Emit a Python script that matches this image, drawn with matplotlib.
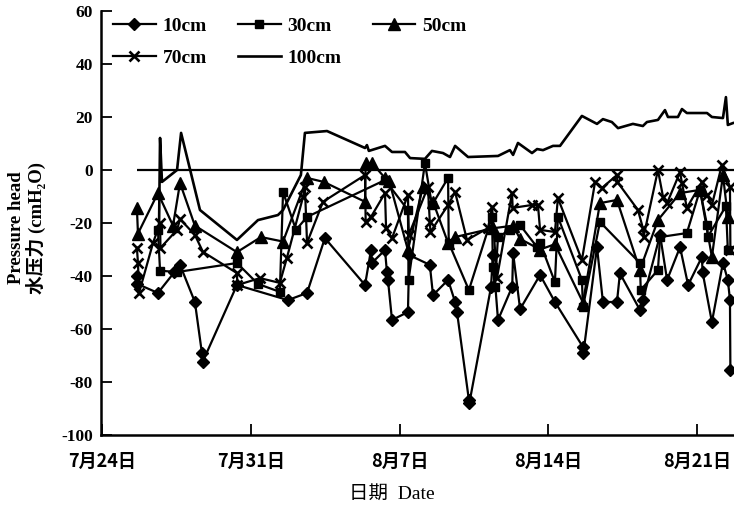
import matplotlib
matplotlib.use("Agg")
import matplotlib.pyplot as plt
from matplotlib.lines import Line2D

plt.rcParams['font.family'] = ['Liberation Serif', 'Noto Sans CJK SC', 'DejaVu Sans']

# days since 7/24 (00:00)
d10 = [1.63, 1.65, 2.62, 3.40, 3.66, 4.36, 4.69, 4.72, 6.34, 8.74, 9.64, 10.48, 12.37, 12.65, 12.70,
       13.31, 13.40, 13.45, 13.64, 14.39, 14.45, 15.42, 15.57, 16.28, 16.61, 16.70, 17.26, 17.28,
       18.30, 18.39, 18.63, 19.30, 19.34, 19.67, 20.61, 21.31, 22.63, 22.65, 23.29, 23.57, 24.23,
       24.37, 25.31, 25.45, 26.26, 26.59, 27.20, 27.58, 28.23, 28.26, 28.70, 29.22, 29.45, 29.55, 29.57]
v10 = [-40, -43, -46.4, -38.5, -35.8, -49.8, -69, -72.5, -43.4, -49.1, -46.4, -25.7, -43.4, -30.2, -35,
       -30.2, -38.5, -41.5, -56.6, -53.6, -32.1, -35.8, -47.2, -41.5, -49.8, -53.6, -86.8, -88,
       -44.2, -32.1, -56.6, -44, -31.3, -52.5, -39.6, -49.8, -66.8, -69.1, -29.1, -49.8, -49.8,
       -39, -52.8, -49.1, -24.5, -41.5, -29.1, -43.4, -32.8, -38.5, -57.4, -35, -41.5, -49, -75.5]

d30 = [2.62, 2.72, 3.52, 6.34, 7.33, 8.36, 8.51, 9.12, 9.64, 13.31, 14.39, 14.42, 15.19, 15.52,
       16.28, 16.31, 17.26, 18.35, 18.39, 18.48, 18.63, 19.19, 19.67, 20.47, 20.61, 21.31, 21.45,
       22.58, 22.63, 23.43, 25.31, 25.35, 26.16, 26.26, 27.52, 28.14, 28.47, 28.50, 29.36, 29.45]
v30 = [-22.6, -38, -38.5, -35.1, -43, -46, -8.3, -22.6, -17.7, -3.8, -15.1, -41.5, 2.6, -13.2,
       -3, -27.5, -45.3, -17.7, -36.6, -44.2, -25.3, -22.6, -20.8, -29.1, -27.5, -42.3, -17.7,
       -41.5, -51.7, -19.6, -35.1, -45.3, -37.7, -25.3, -23.8, -7.5, -20.8, -25.3, -13.6, -30.2]

d50 = [1.63, 1.68, 2.62, 3.33, 3.66, 4.36, 6.34, 7.47, 8.51, 9.64, 10.43, 12.37, 12.40, 12.70,
       13.31, 13.50, 14.39, 15.09, 15.57, 16.28, 16.61, 18.39, 19.34, 19.67, 20.61, 21.31, 22.63,
       23.43, 24.23, 25.31, 26.16, 27.20, 28.14, 28.70, 29.22, 29.45]
v50 = [-14.3, -24, -8.7, -21, -4.9, -21, -31, -25.3, -27, -3, -4.5, -12, 2.6, 2.6,
       -3, -4, -30.2, -6.4, -12, -27.5, -25.3, -22, -21, -26, -30, -28, -50,
       -12.5, -11.3, -37.7, -18.9, -8.7, -7.5, -32.8, -1.9, -17.7]

d70 = [1.63, 1.68, 1.73, 2.39, 2.72, 2.74, 3.52, 3.66, 4.36, 4.74, 6.34, 6.36, 7.42, 8.36, 8.69,
       9.45, 9.54, 9.64, 10.39, 12.37, 12.40, 12.65, 13.31, 13.36, 13.64, 14.39, 14.43, 15.33,
       15.42, 15.45, 16.28, 16.61, 17.17, 18.16, 18.35, 18.58, 19.29, 19.32, 20.23, 20.51, 20.61,
       21.31, 21.45, 22.58, 23.20, 23.52, 24.23, 24.25, 25.22, 25.45, 25.48, 26.16, 26.40, 26.59,
       27.20, 27.29, 27.52, 28.23, 28.47, 28.70, 29.17, 29.55, 29.57]
v70 = [-29.4, -35, -46.4, -27.5, -20, -29.4, -22.6, -18.5, -24.5, -30.9, -38.9, -43.4, -40.8, -42.6, -33.2,
       -10.2, -6.4, -27.5, -12, -1.9, -19.6, -17.7, -8.7, -21.9, -25.7, -9.4, -24.5, -6.4,
       -19.6, -23.4, -13.2, -8.3, -26.4, -21.9, -13.9, -40.8, -8.7, -14.3, -13.2, -13.2, -22.6,
       -23.4, -10.6, -34, -4.5, -6.8, -1.9, -4.5, -15.1, -21.9, -25.3, 0, -10.2, -12.5,
       -0.8, -4.9, -14.3, -4.5, -9.4, -13.2, 1.9, -6.4, -30.2]

d100 = [2.67, 2.72, 2.81, 3.52, 3.71, 4.60, 6.34, 7.33, 8.27, 8.51, 9.35, 9.54, 10.58, 12.37, 12.46,
        12.55, 13.31, 13.64, 14.25, 14.49, 15.19, 15.52, 16.04, 16.37, 16.61, 17.22, 18.63, 19.19,
        19.34, 19.57, 20.23, 20.47, 20.75, 21.22, 21.55, 22.58, 23.29, 23.57, 23.99, 24.28, 24.98,
        25.45, 25.64, 26.16, 26.49, 26.63, 27.10, 27.29, 27.52, 28.47, 28.70, 29.22, 29.36, 29.45, 29.69]
v100 = [-23.4, 12.1, -4.5, 0, 14, -15.1, -26.4, -18.9, -17, -15.1, -1.9, 14, 14.7, 8.3, 9.4,
        7.2, 9.1, 6.8, 6.8, 4.5, 4.2, 7.2, 6.4, 4.9, 9.1, 4.9, 5.3, 7.5,
        5.7, 10.2, 6.4, 7.9, 7.5, 9.1, 9.1, 20.4, 17.4, 19.2, 18.1, 15.8, 17.4,
        16.6, 18.1, 18.9, 22.6, 20, 20, 23, 21.5, 21.5, 20, 19.6, 27.5, 17, 17.7]

xtick_days = [0, 7, 14, 21, 28]
xtick_labels = ['7月24日', '7月31日', '8月7日', '8月14日', '8月21日']
ytick_vals = [-100, -80, -60, -40, -20, 0, 20, 40, 60]
ytick_labels = ['-100', '-80', '-60', '-40', '-20', '0', '20', '40', '60']

fig = plt.figure(figsize=(7.34, 5.07), dpi=100)
ax = fig.add_axes([101/734, 1-435/507, 633/734, 424/507])

lw = 1.6
m10 = dict(marker='D', ms=6.3)
m30 = dict(marker='s', ms=6)
m50 = dict(marker='^', ms=8)
m70 = dict(marker='x', ms=6.5, mew=1.9)
ax.plot(d10, v10, color='black', lw=lw, **m10)
ax.plot(d30, v30, color='black', lw=lw, **m30)
ax.plot(d50, v50, color='black', lw=lw, **m50)
ax.plot(d70, v70, color='black', lw=lw, **m70)
ax.plot(d100, v100, color='black', lw=1.9)

alld = d10 + d30 + d50 + d70 + d100
ax.hlines(0, min(alld), max(alld) + 0.05, color='black', lw=1.6)

ax.set_xlim(-0.06, 29.74)
ax.set_ylim(-100, 60)
ax.set_xticks(xtick_days)
ax.set_xticklabels(xtick_labels, fontsize=13, fontweight='bold',
                   family=['Liberation Sans Narrow', 'Noto Sans CJK SC', 'DejaVu Sans'])
ax.set_yticks(ytick_vals)
ax.set_yticklabels(ytick_labels, fontsize=12.5, fontweight='bold')
ax.tick_params(axis='both', direction='in', length=8, width=1.3, colors='black')
ax.tick_params(axis='x', pad=12)
ax.tick_params(axis='y', pad=6)
for s in ['top', 'right']:
    ax.spines[s].set_visible(False)
for s in ['left', 'bottom']:
    ax.spines[s].set_linewidth(1.8)

handles = [
    Line2D([], [], color='black', lw=lw, **m10),
    Line2D([], [], color='black', lw=lw, **m70),
    Line2D([], [], color='black', lw=lw, **m30),
    Line2D([], [], color='black', lw=1.9),
    Line2D([], [], color='black', lw=lw, **m50),
]
labels = ['10cm', '70cm', '30cm', '100cm', '50cm']
fig.legend(handles, labels, ncol=3, loc='upper left', bbox_to_anchor=(113/734, 1-17/507),
           frameon=False, prop={'weight': 'bold', 'size': 14}, handlelength=2.2,
           handletextpad=0.35, columnspacing=1.6, labelspacing=0.75, borderpad=0, borderaxespad=0)

fig.text(17/734, 1-228/507, 'Pressure head', rotation=90, ha='center', va='center',
         fontsize=13.5, fontweight='bold')
fig.text(36/734, 1-228/507, '水压力 (cmH₂O)', rotation=90, ha='center', va='center',
         fontsize=13.5, fontweight='bold')
fig.text(392/734, 1-494/507, '日期  Date', ha='center', va='center', fontsize=14)

fig.savefig('out.png', dpi=100)
